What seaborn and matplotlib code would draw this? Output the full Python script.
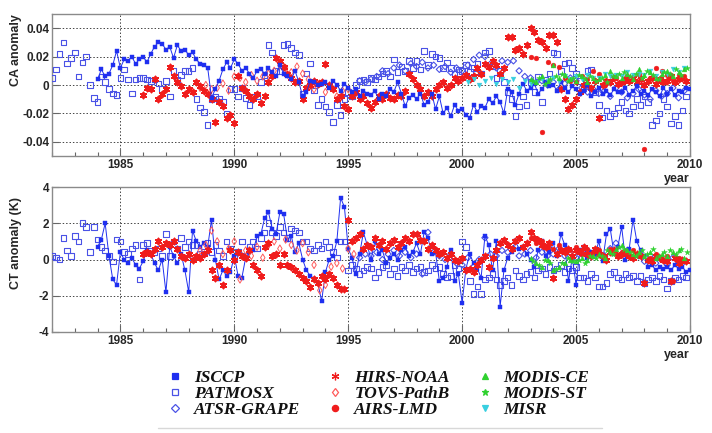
import numpy as np
import matplotlib
matplotlib.use("Agg")
import matplotlib.pyplot as plt
import seaborn as sns
from matplotlib.lines import Line2D
from matplotlib.ticker import FixedLocator, MultipleLocator

# ---------------------------------------------------------------- data
# Time axis of each series: start year and sampling step (years).
# CA values are read in units of 0.001, CT values in units of 0.1 K.

years_major = [1985, 1990, 1995, 2000, 2005, 2010]
ca_ticks = [0.04, 0.02, 0.0, -0.02, -0.04]
ca_ticklabels = ["0.04", "0.02", "0", "-0.02", "-0.04"]
ct_ticks = [4, 2, 0, -2, -4]
ct_ticklabels = ["4", "2", "0", "-2", "-4"]

legend_names = ["ISCCP", "PATMOSX", "ATSR-GRAPE", "HIRS-NOAA", "TOVS-PathB",
                "AIRS-LMD", "MODIS-CE", "MODIS-ST", "MISR"]

# ---- CA anomaly ----
isccp_ca_start, isccp_ca_step = 1984.0, 1 / 6
isccp_ca = [
    4, 11, 6, 8, 14, 24,
    12, 18, 17, 20, 15, 18,
    20, 16, 22, 27, 30, 29,
    25, 27, 19, 28, 24, 25,
    21, 23, 18, 15, 14, 12,
    -9, -3, 3, 11, 16, 12,
    18, 15, 10, 12, 8, 5,
    10, 11, 8, 12, 9, 6,
    14, 8, 6, 4, 10, 2,
    -8, -5, 3, 2, 0, 1,
    2, -2, 3, 0, -4, 1,
    -2, -5, -3, -8, -4, -6,
    -7, -4, -10, -6, -8, -3,
    -5, 2, -6, -15, -9, -7,
    -10, -6, -14, -12, -6, -17,
    -8, -20, -16, -22, -14, -18,
    -17, -21, -23, -14, -19, -15,
    -16, -10, -13, -8, -12, -20,
    -3, -5, -14, -6, 1, -4,
    -2, 1, -6, -3, 2, -1,
    0, -4, 2, -2, -5, -1,
    -3, -6, -4, 0, -8, -5,
    -2, -6, -4, -7, -3, -5,
    -5, -2, -7, -4, -1, -6,
    -4, -7, -3, -5, -8, -2,
    -6, -3, -7, -4, -5, -2,
    -3]

patmosx_ca_start, patmosx_ca_step = 1982.0, 1 / 6
patmosx_ca = [
    5, 11, 22, 30, 15, 19,
    23, 6, 16, 20, 0, -9,
    -12, 6, 2, -3, -6, -7,
    5, 11, 4, -6, 4, 5,
    5, 4, 3, 4, 1, -3,
    3, -8, 10, 4, 7, 10,
    10, 12, -10, -16, -19, -28,
    -10, -8, -10, -12, -20, -3,
    -3, -8, -2, -9, -14, -8,
    -8, 2, 7, 28, 23, 10,
    10, 28, 29, 26, 23, 21,
    -6, 8, 15, -4, -14, -10,
    -15, -19, -26, -14, -21, -10,
    -5, -8, 0, 3, 4, 2,
    5, 4, 6, 8, 10, 6,
    18, 9, 13, 10, 17, 12,
    17, 11, 24, 14, 22, 20,
    19, 12, 16, 12, 8, 11,
    10, 14, 9, 12, 15, 8,
    23, 24, 13, 5, 10, 2,
    -5, -10, -22, -15, -8, -14,
    2, -5, 6, -12, 4, 8,
    23, 22, 10, 15, 16, 12,
    8, 3, -2, 10, 11, -5,
    -14, -23, -18, -22, -20, -16,
    -12, -18, -20, -15, -10, -14,
    -8, -12, -28, -25, -20, -10,
    -15, -27, -22, -28, -18, -8]

atsr_ca_start, atsr_ca_step = 1995.5, 0.25
atsr_ca = [
    3, 2,
    4, 6, 10, 8,
    12, 14, 10, 15,
    13, 16, 12, 14,
    11, 13, 9, 12,
    10, 14, 18, 21,
    20, 15, 12, 17,
    16, 17, 10, 6,
    5, 2, 3, 0,
    2, -3, 1, 5,
    3, -2, -5, -3,
    -6, -4, -8, -2,
    -5, -9, -6, -3,
    -7, -10, -4, -8,
    -6, -2, -9, -4]

hirs_ca_start, hirs_ca_step = 1986.0, 1 / 6
hirs_ca = [
    -7, -2, -3, 4, -10, -6,
    -3, 13, 6, 2, -1, -6,
    -3, -5, 2, -1, -4, -6,
    -10, -26, -12, -15, -23, -21,
    -27, 6, -2, -4, -8, -10,
    -6, -13, -8, 2, 6, 19,
    17, 13, 8, 5, 2, 3,
    -10, -2, 0, 3, 1, 2,
    15, 0, -3, -10, -8, -15,
    -17, -8, -5, -10, -8, -13,
    -16, -12, -8, -10, -6, -9,
    -10, -7, -8, -4, 8, 4,
    0, -3, -8, -5, -8, -3,
    0, 2, -2, 0, 5, 3,
    5, 7, 4, 6, 12, 8,
    15, 13, 17, 14, 8, 12,
    34, 34, 25, 26, 22, 28,
    40, 37, 32, 30, 26, 35,
    35, 30, -3, -10, -17, -14,
    -10, -5, 0, 1, -2, 3,
    -23, 0, 3, 2, 5, 1,
    2, 4, 3, 5, 2, 4,
    0, 3, 5, 1, 4, 2,
    3, 6, 2, 4, 5, 3]

tovs_ca_start, tovs_ca_step = 1988.5, 0.25
tovs_ca = [
    -2, 0,
    -3, -2, 1, -4,
    6, 5, 2, 7,
    3, 6, 8, 10,
    14, 12, 9, 13,
    8, 4, -3, 1,
    -5, -2, -8, -4,
    -3, -6]

airs_ca_start, airs_ca_step = 2003.0, 0.25
airs_ca = [
    20, 19, -33, 16,
    14, 13, 5, 3,
    2, 6, 4, 10,
    8, 0, 3, 5,
    2, 6, 4, 8,
    -45, 5, 12, 10,
    7, 3, 7, 6]

modis_ce_ca_start, modis_ce_ca_step = 2003.0, 0.25
modis_ce_ca = [
    4, 2, 6, 3,
    14, 5, 7, 4,
    3, 6, 2, 5,
    4, 7, 10, 6,
    5, 8, 4, 11,
    7, 9, 5, 8,
    10, 6, 9, 11]

modis_st_ca_start, modis_st_ca_step = 2003.125, 0.25
modis_st_ca = [
    3, 5, 1, 4,
    6, 8, 3, 5,
    7, 4, 6, 3,
    5, 2, 6, 8,
    9, 6, 8, 5,
    10, 7, 4, 9,
    8, 11, 7, 12]

misr_ca_start, misr_ca_step = 2000.25, 0.25
misr_ca = [
    2, 4, 0,
    3, 5, 1, 4,
    2, 4, -2, 3,
    1, 2, 4, 3,
    5, 3, 6, 4,
    6, 4, 7, 5,
    5, 8, 6, 7,
    6, 9, 7, 8,
    7, 10, 6, 9,
    8, 11, 9, 12]

# ---- CT anomaly ----
isccp_ct_start, isccp_ct_step = 1984.0, 1 / 6
isccp_ct = [
    7, 11, 20, 2, -11, -14,
    4, 0, -2, 1, -3, -5,
    -1, 5, 3, -2, -6, 0,
    -18, 7, 2, -2, 3, -6,
    -18, 16, 10, 7, 9, 7,
    22, 0, -11, -6, -9, -7,
    2, -9, -10, 1, 4, 5,
    13, 14, 23, 26, 17, 14,
    26, 25, 11, 13, 4, 9,
    0, -6, -9, -11, -13, -23,
    -7, 0, 2, 10, 34, 29,
    6, 1, -8, 3, 15, 8,
    0, 10, 3, 5, -2, 1,
    3, 0, 5, 7, 2, 4,
    9, 3, 15, 12, 3, 4,
    -12, -10, -4, 5, -12, -8,
    -24, -5, 3, -2, -5, -10,
    13, 8, -6, 10, -26, -6,
    1, 4, 10, 6, 7, 3,
    0, -4, 5, 10, 2, 4,
    9, 2, 14, 8, -12, 1,
    -14, 5, 7, 1, 4, 3,
    10, -1, 14, 17, 3, 7,
    18, 0, 6, 22, 10, 5,
    2, -4, -3, -6, -4, -5,
    -4, -6, -3, -5, -4, -7,
    -6]

patmosx_ct_start, patmosx_ct_step = 1982.0, 1 / 6
patmosx_ct = [
    2, 1, 0, 12, 5, 2,
    13, 10, 20, 18, 4, 18,
    11, 7, 5, 2, -1, 11,
    10, 4, 3, 6, 8, -11,
    8, 9, 5, 4, 6, 2,
    14, 2, 10, 6, 12, 7,
    10, 8, 8, 3, 4, 9,
    4, 8, 5, 2, 10, 6,
    1, 4, 10, 2, 7, 10,
    6, 12, 15, 20, 15, 13,
    18, 15, 12, 17, 16, 15,
    10, 10, 6, 5, 8, 6,
    10, 7, 4, 1, 10, 10,
    -6, -3, -5, -8, -6, -4,
    -5, -10, -7, -4, -3, -8,
    -5, -9, -4, -6, -3, -7,
    -5, -4, -7, -6, -3, -5,
    -4, -8, -10, -9, -3, -5,
    10, 7, -12, -19, -15, -19,
    -11, -10, -8, -11, -14, -12,
    -10, -14, -6, -9, -11, -8,
    -7, -10, -6, -5, -8, -4,
    -6, -5, -3, -7, -5, -6,
    -4, -10, -10, -12, -8, -10,
    -15, -15, -13, -8, -7, -10,
    -11, -8, -10, -9, -12, -9,
    -13, -11, -10, -12, -9, -11,
    -16, -12, -10, -11, -9, -10]

atsr_ct_start, atsr_ct_step = 1995.5, 0.25
atsr_ct = [
    1, 3,
    2, 4, 0, 3,
    5, 2, 4, 1,
    3, -8, 15, 4,
    2, 0, 3, -2,
    -3, 1, -4, 0,
    12, 3, 2, 5,
    4, 6, 2, 3,
    5, 1, 4, 2,
    3, 6, 2, 4,
    1, 3, 5, 2,
    4, 2, 6, 9,
    3, 5, 1, 2,
    -1, 2, -2, 0,
    -3, 1, -2, -1]

hirs_ct_start, hirs_ct_step = 1986.0, 1 / 6
hirs_ct = [
    3, 4, 3, 6, 10, 7,
    9, 8, 10, 6, 2, 1,
    3, 0, 2, 1, 3, 5,
    -6, -10, -3, -14, -6, 5,
    0, 4, 2, 1, 5, -3,
    -6, -9, 7, 9, 2, 3,
    -3, 3, -3, -4, -6, -8,
    -10, -12, -15, -11, -13, -9,
    -11, -8, -10, -14, -16, -16,
    22, 10, 12, 14, 6, 8,
    7, 12, 8, 10, 6, 9,
    11, 7, 9, 12, 10, 14,
    14, 11, 10, 6, 8, 5,
    3, 4, 1, 3, 0, -1,
    1, -6, -5, -7, -3, 0,
    2, -4, 1, 5, 9, 11,
    8, 6, 10, 12, 7, 9,
    15, 12, 11, 8, 7, 9,
    -10, 3, 5, 4, 6, 2,
    5, 4, 7, 3, 2, 6,
    3, 2, 0, 4, 5, 2,
    3, 4, 2, 1, 3, 2,
    -13, 0, -1, 2, 1, 0,
    -1, -12, 1, -2, 0, -1]

tovs_ct_start, tovs_ct_step = 1988.5, 0.25
tovs_ct = [
    5, 8,
    16, 10, 3, 6,
    10, -11, 5, 2,
    7, 1, 8, 10,
    6, 11, 8, 5,
    9, 4, -3, -17,
    -14, -4, -2, -5,
    6, 3]

airs_ct_start, airs_ct_step = 2003.0, 0.25
airs_ct = [
    12, 9, 10, 7,
    6, 8, 4, 5,
    7, 3, 6, 4,
    5, 2, 6, 3,
    4, 3, 5, 2,
    -13, 1, 3, 0,
    2, -12, 1, -1]

modis_ce_ct_start, modis_ce_ct_step = 2003.0, 0.25
modis_ce_ct = [
    1, -2, -4, 0,
    -6, -4, -2, 0,
    -1, 1, 0, 2,
    3, 1, 4, 6,
    8, 5, 3, 4,
    2, 4, 1, 3,
    2, 4, 5, 1]

modis_st_ct_start, modis_st_ct_step = 2003.125, 0.25
modis_st_ct = [
    -1, -3, 0, -2,
    -5, -2, 1, -1,
    0, -2, 2, 1,
    2, 5, 3, 7,
    6, 4, 2, 5,
    3, 6, 2, 4,
    5, 3, 6, 4]

# ---------------------------------------------------------------- styles
BLUE = "#1f2ff0"
BLUE_L = "#4a52e6"
RED = "#f01c1c"
PINK = "#ff5a5a"
GREEN = "#2fd12f"
CYAN = "#38cfe0"
ASTER = (6, 2, 0)

styles = {
    "ISCCP":      dict(marker="s", color=BLUE, fc=BLUE, s=11, lw=0.3),
    "PATMOSX":    dict(marker="s", color=BLUE_L, fc="none", s=16, lw=0.8),
    "ATSR-GRAPE": dict(marker="D", color=BLUE_L, fc="none", s=10, lw=0.8),
    "HIRS-NOAA":  dict(marker=ASTER, color=RED, fc=RED, s=18, lw=1.3),
    "TOVS-PathB": dict(marker="d", color=PINK, fc="none", s=14, lw=0.7),
    "AIRS-LMD":   dict(marker="o", color=RED, fc=RED, s=12, lw=0.3),
    "MODIS-CE":   dict(marker="^", color=GREEN, fc=GREEN, s=12, lw=0.3),
    "MODIS-ST":   dict(marker="*", color=GREEN, fc=GREEN, s=18, lw=0.3),
    "MISR":       dict(marker="v", color=CYAN, fc=CYAN, s=12, lw=0.3),
}


def tgrid(start, step, vals):
    return start + step * np.arange(len(vals))


def draw(ax, name, start, step, vals, scale, z):
    st = styles[name]
    x = tgrid(start, step, vals)
    y = np.asarray(vals, float) * scale
    if name == "ISCCP":
        sns.lineplot(x=x, y=y, ax=ax, color=BLUE, lw=0.7, zorder=z - 0.5,
                     sort=False, estimator=None)
    sns.scatterplot(x=x, y=y, ax=ax, marker=st["marker"], s=st["s"],
                    color=st["color"], facecolor=st["fc"],
                    edgecolor=st["color"], linewidth=st["lw"], zorder=z)


sns.set_theme(style="white")
plt.rcParams["font.family"] = ["Liberation Sans", "DejaVu Sans"]

W, H = 712, 433
fig = plt.figure(figsize=(W / 100, H / 100), dpi=100)
ax1 = fig.add_axes([52 / W, 1 - 156 / H, 638 / W, 142 / H])
ax2 = fig.add_axes([52 / W, 1 - 332 / H, 638 / W, 145 / H])

ca = 1e-3
draw(ax1, "PATMOSX", patmosx_ca_start, patmosx_ca_step, patmosx_ca, ca, 3)
draw(ax1, "ATSR-GRAPE", atsr_ca_start, atsr_ca_step, atsr_ca, ca, 3.1)
draw(ax1, "TOVS-PathB", tovs_ca_start, tovs_ca_step, tovs_ca, ca, 3.2)
draw(ax1, "HIRS-NOAA", hirs_ca_start, hirs_ca_step, hirs_ca, ca, 3.3)
draw(ax1, "ISCCP", isccp_ca_start, isccp_ca_step, isccp_ca, ca, 4)
draw(ax1, "AIRS-LMD", airs_ca_start, airs_ca_step, airs_ca, ca, 4.2)
draw(ax1, "MISR", misr_ca_start, misr_ca_step, misr_ca, ca, 4.3)
draw(ax1, "MODIS-CE", modis_ce_ca_start, modis_ce_ca_step, modis_ce_ca, ca, 4.4)
draw(ax1, "MODIS-ST", modis_st_ca_start, modis_st_ca_step, modis_st_ca, ca, 4.5)

ct = 0.1
draw(ax2, "PATMOSX", patmosx_ct_start, patmosx_ct_step, patmosx_ct, ct, 3)
draw(ax2, "ATSR-GRAPE", atsr_ct_start, atsr_ct_step, atsr_ct, ct, 3.1)
draw(ax2, "ISCCP", isccp_ct_start, isccp_ct_step, isccp_ct, ct, 3.6)
draw(ax2, "TOVS-PathB", tovs_ct_start, tovs_ct_step, tovs_ct, ct, 3.7)
draw(ax2, "HIRS-NOAA", hirs_ct_start, hirs_ct_step, hirs_ct, ct, 3.8)
draw(ax2, "AIRS-LMD", airs_ct_start, airs_ct_step, airs_ct, ct, 4.2)
draw(ax2, "MODIS-CE", modis_ce_ct_start, modis_ce_ct_step, modis_ce_ct, ct, 4.4)
draw(ax2, "MODIS-ST", modis_st_ct_start, modis_st_ct_step, modis_st_ct, ct, 4.5)

tick_font = dict(family="Liberation Sans", weight="bold", size=8.5)
for ax, ticks, labels, ylim, ylab, ytop in [
        (ax1, ca_ticks, ca_ticklabels, (-0.05, 0.05), "CA anomaly", 1.0),
        (ax2, ct_ticks, ct_ticklabels, (-4, 4), "CT anomaly (K)", 0.93)]:
    ax.set_xlim(1982, 2010)
    ax.set_ylim(*ylim)
    ax.xaxis.set_major_locator(FixedLocator(years_major))
    ax.xaxis.set_minor_locator(MultipleLocator(1))
    ax.set_xticks(years_major)
    ax.set_xticklabels([str(y) for y in years_major], fontdict=tick_font)
    ax.set_yticks(ticks)
    ax.set_yticklabels(labels, fontdict=tick_font)
    ax.tick_params(axis="both", which="major", direction="in", length=5,
                   width=0.8, color="#666666", pad=2, left=True, bottom=True)
    ax.tick_params(axis="x", which="minor", direction="in", length=3,
                   width=0.8, color="#666666", bottom=True)
    ax.grid(True, which="major", color="#444444", linestyle=(0, (1.5, 2)),
            linewidth=0.7, zorder=0)
    ax.set_axisbelow(True)
    for sp in ax.spines.values():
        sp.set_color("#8a8a8a")
        sp.set_linewidth(1.0)
    ax.set_xlabel("")
    ax.set_ylabel(ylab, fontsize=9, fontweight="bold", loc="top")
    ax.yaxis.set_label_coords(-30 / 638, ytop)
    ax.set_facecolor("white")

fig.text(690 / W, 1 - 179 / H, "year", ha="right", va="center",
         fontsize=9, fontweight="bold")
fig.text(690 / W, 1 - 355 / H, "year", ha="right", va="center",
         fontsize=9, fontweight="bold")

# legend
handles = []
for name in legend_names:
    st = styles[name]
    handles.append(Line2D([], [], linestyle="none", marker=st["marker"],
                          markersize=4.5 if name != "HIRS-NOAA" else 5.5,
                          markerfacecolor=st["fc"], markeredgecolor=st["color"],
                          markeredgewidth=0.9))
leg = fig.legend(handles=handles, labels=legend_names, ncol=3,
                 loc="center", bbox_to_anchor=(378 / W, 1 - 394 / H),
                 frameon=False, handletextpad=0.6, columnspacing=1.5,
                 labelspacing=0.0, handlelength=1.0,
                 prop=dict(family="Liberation Serif", style="italic",
                           weight="bold", size=12.5))
for t in leg.get_texts():
    t.set_color("#111111")
fig.add_artist(Line2D([158 / W, 602 / W], [1 - 428 / H, 1 - 428 / H],
                      transform=fig.transFigure, color="#d8d8d8", lw=1.0))

fig.savefig("out.png", dpi=100, facecolor="white")
